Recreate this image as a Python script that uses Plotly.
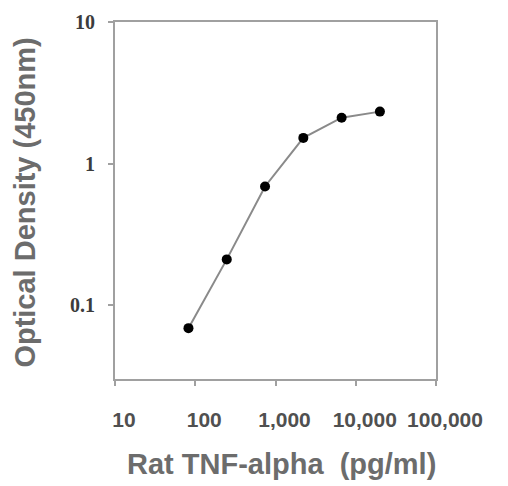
import plotly.graph_objects as go

concentration = [82.3, 246.9, 740.7, 2222, 6667, 20000]
optical_density = [0.069, 0.211, 0.69, 1.52, 2.11, 2.33]

x_tickvals = [10, 100, 1000, 10000, 100000]
x_ticktext = ["10", "100", "1,000", "10,000", "100,000"]
y_tickvals = [0.1, 1, 10]
y_ticktext = ["0.1", "1", "10"]

x_title = "Rat TNF-alpha  (pg/ml)"
y_title = "Optical Density (450nm)"

fig = go.Figure()
fig.add_trace(go.Scatter(
    x=concentration, y=optical_density, mode="lines+markers",
    line=dict(color="#8a8a8a", width=2),
    marker=dict(color="black", size=10),
    showlegend=False,
))

axis_line = dict(showline=True, linecolor="#a0a0a0", linewidth=2, mirror=True,
                 showgrid=False, zeroline=False, ticks="outside", ticklen=5,
                 tickcolor="#a0a0a0", tickwidth=1.5, automargin=False)

fig.update_xaxes(type="log", range=[1, 5], tickvals=x_tickvals, ticktext=x_ticktext,
                 tickfont=dict(family="Arial, Liberation Sans", size=21, color="#505050",
                               weight="bold"),
                 ticklabelstandoff=16, ticklabelshift=9, **axis_line)
fig.update_yaxes(type="log", range=[-1.52, 1], tickvals=y_tickvals, ticktext=y_ticktext,
                 tickfont=dict(family="Liberation Serif, Times New Roman", size=20,
                               color="#3c3c3c", weight="bold"),
                 ticklabelstandoff=9, **axis_line)

title_font = dict(family="Arial, Liberation Sans", size=29, color="#6c6c6c", weight="bold")
fig.add_annotation(text=x_title, xref="paper", yref="paper", x=0.5187, y=-0.2381,
                   xanchor="center", yanchor="middle", showarrow=False, font=title_font)
fig.add_annotation(text=y_title, xref="paper", yref="paper", x=-0.2800, y=0.4944,
                   xanchor="center", yanchor="middle", showarrow=False, textangle=-90,
                   font=title_font)

fig.update_layout(width=508, height=486, margin=dict(l=107, r=80, t=14, b=115),
                  plot_bgcolor="white", paper_bgcolor="white")
fig.write_html("out.html")
